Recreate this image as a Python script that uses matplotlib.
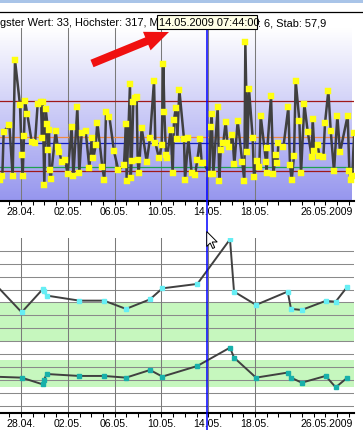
import numpy as np
import matplotlib
matplotlib.use('Agg')
import matplotlib.pyplot as plt
from matplotlib.patches import Rectangle, FancyArrow, Polygon
from matplotlib.transforms import ScaledTranslation
from matplotlib.ticker import MultipleLocator

plt.rcParams['font.family'] = ['Liberation Sans', 'DejaVu Sans']

# ---- time axis (days since 28.04.2009 00:00) ----
tick_days = [0, 4, 8, 12, 16, 20, 28]
tick_labels = ['28.04.', '02.05.', '06.05.', '10.05.', '14.05.', '18.05.', '26.05.2009']
grid_days = [0, 4, 8, 12, 16, 20]
cursor_day = 15.86

# ---- top chart: single readings ----
glucose_days = [
    -1.795, -1.596, -1.482, -0.997, -0.712, -0.513, -0.086, 0.057, 0.142, 0.256,
    0.342, 0.541, 0.912, 1.196, 1.424, 1.709, 1.795, 1.852, 1.994, 2.108,
    2.251, 2.308, 2.393, 2.450, 2.536, 2.963, 3.134, 3.276, 3.476, 3.761,
    3.989, 4.330, 4.473, 4.815, 4.986, 5.185, 5.527, 5.840, 6.040, 6.182,
    6.382, 6.524, 6.951, 7.122, 7.265, 7.550, 7.949, 8.319, 8.803, 8.974,
    9.031, 9.316, 9.373, 9.459, 9.601, 9.744, 9.886, 9.971, 10.057, 10.313,
    10.741, 11.026, 11.368, 11.481, 11.795, 12.023, 12.165, 12.251, 12.393, 12.479,
    12.792, 12.963, 13.077, 13.219, 13.362, 13.533, 13.932, 14.017, 14.302, 14.587,
    14.872, 15.071, 15.299, 15.442, 15.641, 16.097, 16.211, 16.296, 16.439, 16.809,
    16.952, 17.066, 17.294, 17.493, 17.636, 17.807, 18.063, 18.234, 18.519, 18.918,
    19.089, 19.174, 19.345, 19.487, 19.801, 19.915, 20.143, 20.370, 20.484, 20.940,
    20.997, 21.054, 21.368, 21.567, 21.766, 21.909, 21.994, 22.422, 22.849, 22.991,
    23.134, 23.334, 23.476, 23.789, 23.932, 24.217, 24.502, 24.844, 24.929, 25.071,
    25.356, 25.499, 25.840, 25.983, 26.268, 26.467, 26.752, 27.037, 27.265, 27.920,
    28.063, 28.177, 28.319, 28.462,
]
glucose_values = [
    42, 51, 139, 152, 50, 281, 192, 93, 51, 130,
    200, 173, 119, 116, 194, 197, 126, 198, 33, 184,
    154, 102, 142, 63, 44, 140, 109, 99, 79, 83,
    55, 149, 50, 187, 57, 137, 140, 67, 126, 86,
    112, 157, 69, 43, 177, 169, 100, 62, 73, 154,
    41, 234, 46, 81, 198, 205, 208, 83, 56, 147,
    79, 126, 240, 117, 86, 112, 273, 177, 93, 86,
    143, 56, 162, 185, 124, 222, 124, 43, 126, 56,
    53, 83, 124, 76, 76, 55, 149, 174, 55, 187,
    41, 102, 117, 159, 116, 108, 132, 74, 160, 78,
    41, 317, 99, 223, 126, 48, 81, 69, 171, 79,
    56, 106, 210, 55, 93, 76, 116, 108, 187, 73,
    43, 91, 240, 161, 56, 194, 139, 89, 165, 100,
    112, 91, 88, 156, 220, 141, 60, 170, 98, 171,
    60, 42, 50, 137,
]
upper_limit = 200
target_high = 129
mean_value = 116
target_low = 69
lower_limit = 61

# ---- bottom chart: two aggregated series ----
bottom_days = [-2.5, 0.057, 1.852, 1.966, 2.194, 4.986, 7.094, 8.974, 11.026, 12.080,
               15.071, 17.863, 18.205, 20.085, 22.792, 23.077, 23.989, 26.040, 26.895, 27.892]
upper_series = [9.69, 7.24, 9.02, 8.89, 8.53, 8.14, 8.14, 7.50, 8.24, 9.09,
                9.43, 12.88, 8.84, 7.81, 8.84, 7.50, 7.42, 8.12, 8.06, 9.22]
lower_series = [2.27, 2.19, 1.67, 2.01, 2.47, 2.32, 2.32, 2.19, 2.78, 2.27,
                3.09, 4.51, 3.74, 2.19, 2.58, 2.19, 1.80, 2.32, 1.44, 2.19]
band_upper = (5.0, 8.05)
band_lower = (1.45, 3.55)
grid_levels = list(range(13))

# ---- header texts ----
header_left = 'gster Wert: 33, Höchster: 317, M'
tooltip_text = '14.05.2009 07:44:00'
header_right = ': 6, Stab: 57,9'

W, H = 363, 430
fig = plt.figure(figsize=(W / 100, H / 100), dpi=100)
fig.patch.set_facecolor('white')

XLIM = (-1.795, 28.46)
FS = 7.6
HFS = 7.9


def style_time_axis(ax):
    ax.set_xlim(*XLIM)
    ax.set_xticks(tick_days)
    ax.set_xticklabels(tick_labels, fontsize=FS)
    ax.xaxis.set_minor_locator(MultipleLocator(1))
    ax.tick_params(axis='x', which='both', direction='out', length=3.0, width=0.75,
                   color='black', pad=1.5)
    ax.set_yticks([])
    for s in ('top', 'left', 'right'):
        ax.spines[s].set_visible(False)
    ax.spines['bottom'].set_linewidth(1.5)
    ax.spines['bottom'].set_color('black')
    lbl = ax.get_xticklabels()[-1]
    lbl.set_horizontalalignment('right')
    lbl.set_transform(lbl.get_transform() + ScaledTranslation(4.5 / 100, 0, fig.dpi_scale_trans))


# ---------------- top chart ----------------
top_y0, top_y1 = 28.3, 200.7
ax1 = fig.add_axes([0, 1 - top_y1 / H, 354 / W, (top_y1 - top_y0) / H])
ax1.set_facecolor('white')
YLIM1 = (1.8, 344.2)
ax1.set_ylim(*YLIM1)
style_time_axis(ax1)

n = 256
t = np.linspace(0, 1, n)[:, None]
top_c = np.array([1.0, 1.0, 1.0])
bot_c = np.array([150, 150, 238]) / 255
grad = (1 - t)[..., None] * top_c + t[..., None] * bot_c
ax1.imshow(grad, extent=[XLIM[0], XLIM[0] + (XLIM[1] - XLIM[0]) * 352 / 354, YLIM1[0], YLIM1[1]],
           aspect='auto', zorder=0, interpolation='bilinear')

for d in grid_days:
    ax1.axvline(d, color='#7a7a7a', lw=0.75, zorder=1)

ax1.axhline(upper_limit, color='#a01818', lw=0.9, zorder=2)
ax1.axhline(target_high, color='#f08a40', lw=0.9, zorder=2)
ax1.axhline(mean_value, color='#1020c0', lw=0.9, zorder=2)
ax1.axhline(target_low, color='#20a050', lw=0.9, zorder=2)
ax1.axhline(lower_limit, color='#a01818', lw=0.9, zorder=2)

ax1.plot(glucose_days, glucose_values, color='#404040', lw=1.8, zorder=3,
         marker='s', markersize=3.9, markerfacecolor='#ffff10', markeredgecolor='#ffff10',
         markeredgewidth=0.3, clip_on=True)
ax1.axvline(cursor_day, color='#0000ff', lw=1.1, zorder=5)

# ---------------- bottom chart ----------------
bot_y0, bot_y1 = 238.0, 412.7
ax2 = fig.add_axes([0, 1 - bot_y1 / H, 354 / W, (bot_y1 - bot_y0) / H])
ax2.set_facecolor('white')
ax2.set_ylim(-0.52, 12.98)
style_time_axis(ax2)

ax2.axhspan(*band_upper, color='#c6f7be', lw=0, zorder=0)
ax2.axhspan(*band_lower, color='#c6f7be', lw=0, zorder=0)
for k in grid_levels:
    ax2.axhline(k, color='#8a8a8a', lw=0.75, zorder=1)
for d in grid_days:
    ax2.axvline(d, color='#7a7a7a', lw=0.75, zorder=1)

ax2.plot(bottom_days, upper_series, color='#404040', lw=1.4, zorder=3,
         marker='s', markersize=3.5, markerfacecolor='#66eef4', markeredgecolor='#66eef4')
ax2.plot(bottom_days, lower_series, color='#404040', lw=1.4, zorder=3,
         marker='s', markersize=3.5, markerfacecolor='#18b0aa', markeredgecolor='#18b0aa')
gap = (bot_y0 - top_y1) / (bot_y1 - bot_y0)
below = (H - bot_y1) / (bot_y1 - bot_y0)
ax2.axvline(cursor_day, ymin=-below - 0.01, ymax=1 + gap, color='#0000ff', lw=1.1,
            zorder=6, clip_on=False)

# ---------------- overlay (header, tooltip, arrow, mouse pointer) ----------------
ov = fig.add_axes([0, 0, 1, 1], zorder=10)
ov.set_xlim(0, W)
ov.set_ylim(H, 0)
ov.axis('off')

ov.add_patch(Rectangle((0, 0), W, 3, facecolor='#a9c4e8', edgecolor='none'))
ov.plot([0, W], [12.3, 12.3], color='black', lw=0.9)

ov.text(0, 26.3, header_left, fontsize=HFS, va='baseline', ha='left', color='black')
ov.add_patch(Rectangle((157, 14.8), 99.5, 13.9, facecolor='#ffffe6', edgecolor='black', lw=0.8,
                       zorder=5))
ov.text(159.0, 26.3, tooltip_text, fontsize=HFS, va='baseline', ha='left', color='black',
        zorder=6)
ov.text(258.3, 26.3, header_right, fontsize=HFS, va='baseline', ha='left', color='black')

ov.add_patch(FancyArrow(92, 63.5, 77, -31.5, width=8, head_width=20, head_length=24,
                        length_includes_head=True, color='#f01010', lw=0))

cx, cy = 206.7, 231.5
ov.add_patch(Polygon([(cx, cy), (cx, cy + 15), (cx + 3.5, cy + 11.5), (cx + 6, cy + 17),
                      (cx + 8, cy + 16), (cx + 5.5, cy + 10.5), (cx + 10.5, cy + 10.5)],
                     closed=True, facecolor='white', edgecolor='black', lw=0.7, zorder=8))

fig.savefig('out.png', dpi=100)
